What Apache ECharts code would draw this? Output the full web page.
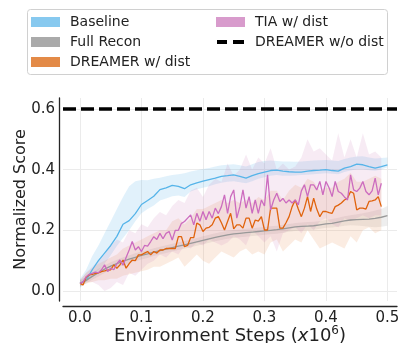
<!DOCTYPE html>
<html>
<head>
<meta charset="utf-8">
<script src="https://cdn.jsdelivr.net/npm/echarts@6/dist/echarts.min.js"></script>
<style>
  html, body { margin: 0; padding: 0; background: #fff; }
  #main { width: 402px; height: 343px; }
</style>
</head>
<body>
<div id="main"></div>
<script>
// environment steps (x1e6): coarse grid for smooth curves and bands, fine grid for noisy runs
const steps = Array.from({ length: 51 }, (_, i) => +(i * 0.01).toFixed(2));
const stepsFine = Array.from({ length: 99 }, (_, i) => +(i * 0.005).toFixed(3));
const stepsBand = steps.slice(0, 50);

const xTicks = [0, 0.1, 0.2, 0.3, 0.4, 0.5];
const yTicks = [0, 0.2, 0.4, 0.6];

const woDistScore = 0.6;

const baseline = [0.025, 0.035, 0.07, 0.1, 0.125, 0.15, 0.18, 0.22, 0.232, 0.255, 0.285,
  0.298, 0.312, 0.334, 0.34, 0.348, 0.345, 0.337, 0.35, 0.356, 0.362, 0.367, 0.372, 0.378,
  0.38, 0.383, 0.378, 0.372, 0.38, 0.387, 0.392, 0.397, 0.398, 0.395, 0.393, 0.392, 0.392,
  0.395, 0.397, 0.398, 0.4, 0.397, 0.395, 0.405, 0.41, 0.418, 0.416, 0.41, 0.405, 0.41, 0.416];
const baselineHi = [0.04, 0.07, 0.115, 0.15, 0.19, 0.23, 0.27, 0.31, 0.345, 0.362, 0.366,
  0.365, 0.37, 0.373, 0.378, 0.382, 0.385, 0.388, 0.394, 0.398, 0.402, 0.405, 0.41, 0.414,
  0.416, 0.418, 0.414, 0.41, 0.418, 0.425, 0.428, 0.43, 0.428, 0.427, 0.427, 0.426, 0.427,
  0.428, 0.43, 0.431, 0.432, 0.43, 0.428, 0.435, 0.44, 0.443, 0.444, 0.44, 0.437, 0.438, 0.44];
const baselineLo = [0.01, 0.03, 0.05, 0.068, 0.09, 0.118, 0.148, 0.175, 0.2, 0.23, 0.256,
  0.27, 0.282, 0.298, 0.305, 0.312, 0.315, 0.31, 0.328, 0.335, 0.34, 0.345, 0.352, 0.357,
  0.36, 0.362, 0.358, 0.355, 0.362, 0.37, 0.375, 0.38, 0.382, 0.38, 0.38, 0.381, 0.382,
  0.383, 0.385, 0.386, 0.388, 0.386, 0.385, 0.392, 0.397, 0.4, 0.4, 0.398, 0.396, 0.4, 0.408];

const fullRecon = [0.025, 0.035, 0.048, 0.06, 0.072, 0.082, 0.09, 0.098, 0.105, 0.111, 0.117,
  0.122, 0.128, 0.133, 0.138, 0.143, 0.148, 0.152, 0.157, 0.162, 0.167, 0.172, 0.177, 0.181,
  0.185, 0.188, 0.19, 0.192, 0.194, 0.196, 0.198, 0.2, 0.202, 0.205, 0.208, 0.211, 0.213,
  0.214, 0.215, 0.218, 0.221, 0.223, 0.227, 0.231, 0.234, 0.235, 0.236, 0.237, 0.239, 0.243, 0.248];
const fullReconHi = [0.035, 0.046, 0.06, 0.073, 0.085, 0.095, 0.103, 0.111, 0.118, 0.124, 0.13,
  0.135, 0.141, 0.146, 0.151, 0.156, 0.161, 0.165, 0.17, 0.175, 0.18, 0.185, 0.19, 0.194,
  0.198, 0.201, 0.203, 0.205, 0.207, 0.209, 0.211, 0.213, 0.215, 0.218, 0.221, 0.224, 0.226,
  0.227, 0.228, 0.231, 0.234, 0.237, 0.241, 0.246, 0.25, 0.253, 0.256, 0.26, 0.265, 0.27, 0.28];
const fullReconLo = [0.015, 0.025, 0.037, 0.048, 0.059, 0.069, 0.077, 0.085, 0.092, 0.098, 0.104,
  0.109, 0.115, 0.12, 0.125, 0.13, 0.135, 0.139, 0.144, 0.149, 0.154, 0.159, 0.164, 0.168,
  0.172, 0.175, 0.177, 0.179, 0.181, 0.183, 0.185, 0.187, 0.189, 0.192, 0.195, 0.198, 0.2,
  0.201, 0.202, 0.205, 0.208, 0.209, 0.212, 0.215, 0.217, 0.216, 0.214, 0.212, 0.21, 0.212, 0.215];

const dreamerDist = [0.025, 0.02, 0.045, 0.053, 0.055, 0.058, 0.06, 0.064, 0.066, 0.069,
  0.07, 0.086, 0.075, 0.086, 0.102, 0.075, 0.09, 0.102, 0.1, 0.119,
  0.119, 0.125, 0.13, 0.119, 0.13, 0.125, 0.135, 0.135, 0.14, 0.14,
  0.14, 0.14, 0.179, 0.179, 0.146, 0.15, 0.176, 0.176, 0.224, 0.218,
  0.196, 0.207, 0.21, 0.218, 0.24, 0.245, 0.225, 0.201, 0.229, 0.256,
  0.205, 0.218, 0.218, 0.207, 0.24, 0.24, 0.207, 0.234, 0.23, 0.245,
  0.201, 0.201, 0.273, 0.273, 0.273, 0.207, 0.207, 0.225, 0.245, 0.278,
  0.3, 0.27, 0.245, 0.273, 0.311, 0.262, 0.306, 0.27, 0.245, 0.262,
  0.262, 0.258, 0.256, 0.278, 0.283, 0.29, 0.3, 0.306, 0.328, 0.322,
  0.267, 0.273, 0.273, 0.27, 0.295, 0.297, 0.3, 0.311, 0.278];
const dreamerDistHi = [0.035, 0.06, 0.075, 0.09, 0.1, 0.11, 0.12, 0.14, 0.15, 0.16,
  0.17, 0.18, 0.19, 0.2, 0.2, 0.23, 0.24, 0.22, 0.24, 0.27,
  0.27, 0.28, 0.29, 0.3, 0.29, 0.3, 0.29, 0.3, 0.29, 0.31,
  0.3, 0.33, 0.33, 0.3, 0.33, 0.35, 0.34, 0.37, 0.36, 0.33,
  0.34, 0.34, 0.36, 0.37, 0.39, 0.36, 0.36, 0.37, 0.38, 0.37];
const dreamerDistLo = [0.015, 0.025, 0.03, 0.035, 0.035, 0.04, 0.04, 0.05, 0.055, 0.06,
  0.065, 0.07, 0.08, 0.08, 0.09, 0.1, 0.11, 0.08, 0.1, 0.12,
  0.1, 0.09, 0.11, 0.13, 0.12, 0.11, 0.13, 0.14, 0.12, 0.13,
  0.12, 0.16, 0.17, 0.13, 0.15, 0.17, 0.16, 0.2, 0.17, 0.14,
  0.15, 0.16, 0.15, 0.14, 0.18, 0.16, 0.2, 0.21, 0.19, 0.2];

const tiaDist = [0.025, 0.03, 0.047, 0.055, 0.058, 0.062, 0.06, 0.07, 0.086, 0.064,
  0.075, 0.07, 0.09, 0.102, 0.085, 0.11, 0.135, 0.163, 0.135, 0.146,
  0.13, 0.15, 0.148, 0.163, 0.179, 0.17, 0.19, 0.172, 0.19, 0.196,
  0.168, 0.2, 0.2, 0.223, 0.229, 0.24, 0.251, 0.218, 0.256, 0.23,
  0.262, 0.235, 0.262, 0.24, 0.273, 0.255, 0.278, 0.317, 0.256, 0.311,
  0.333, 0.24, 0.278, 0.333, 0.273, 0.311, 0.256, 0.3, 0.256, 0.3,
  0.28, 0.383, 0.267, 0.3, 0.322, 0.295, 0.305, 0.29, 0.3, 0.29,
  0.3, 0.284, 0.33, 0.35, 0.311, 0.35, 0.35, 0.333, 0.361, 0.317,
  0.361, 0.34, 0.311, 0.361, 0.328, 0.322, 0.31, 0.3, 0.383, 0.333,
  0.328, 0.339, 0.361, 0.328, 0.317, 0.33, 0.372, 0.317, 0.355];
const tiaDistHi = [0.035, 0.06, 0.08, 0.1, 0.12, 0.15, 0.17, 0.16, 0.2, 0.19,
  0.22, 0.21, 0.24, 0.26, 0.25, 0.28, 0.3, 0.29, 0.33, 0.34,
  0.31, 0.35, 0.37, 0.36, 0.42, 0.38, 0.4, 0.45, 0.4, 0.44,
  0.42, 0.47, 0.4, 0.42, 0.4, 0.41, 0.44, 0.5, 0.46, 0.47,
  0.45, 0.43, 0.52, 0.44, 0.5, 0.44, 0.52, 0.45, 0.46, 0.44];
const tiaDistLo = [0.015, 0.03, 0.03, 0.02, 0.0, 0.01, 0.03, 0.02, 0.06, 0.05,
  0.07, 0.09, 0.1, 0.12, 0.11, 0.13, 0.12, 0.15, 0.14, 0.16,
  0.15, 0.17, 0.16, 0.15, 0.16, 0.18, 0.17, 0.15, 0.2, 0.18,
  0.16, 0.18, 0.13, 0.19, 0.2, 0.21, 0.19, 0.22, 0.2, 0.23,
  0.24, 0.22, 0.21, 0.24, 0.23, 0.24, 0.25, 0.24, 0.25, 0.25];

const FONT = 'DejaVu Sans';
const INK = '#222';

function pairs(xs, ys) {
  return ys.map((y, i) => [xs[i], y]);
}

// shaded spread, drawn as one polygon through the axes' coord mapping
function band(xs, lo, hi, fill) {
  return {
    type: 'custom',
    silent: true,
    z: 1,
    data: [0],
    renderItem: function (params, api) {
      const pts = [];
      for (let i = 0; i < xs.length; i++) pts.push(api.coord([xs[i], hi[i]]));
      for (let i = xs.length - 1; i >= 0; i--) pts.push(api.coord([xs[i], lo[i]]));
      return { type: 'polygon', shape: { points: pts }, style: { fill: fill } };
    }
  };
}

function curve(name, xs, ys, color) {
  return {
    name: name,
    type: 'line',
    z: 3,
    showSymbol: false,
    symbol: 'none',
    data: pairs(xs, ys),
    lineStyle: { color: color, width: 1.3 },
    itemStyle: { color: color }
  };
}

const legendText = { fontFamily: FONT, fontSize: 14, color: INK, padding: [0, 0, 0, 5] };

const chart = echarts.init(document.getElementById('main'));

chart.setOption({
  animation: false,
  textStyle: { fontFamily: FONT },
  graphic: [{
    type: 'rect',
    left: 27, top: 9, z: -10,
    shape: { width: 360, height: 65, r: 3 },
    style: { fill: 'rgba(255,255,255,0.8)', stroke: '#d0d0d0', lineWidth: 1 }
  }],
  legend: [{
    left: 31, top: 15, padding: 0,
    orient: 'vertical',
    itemWidth: 29, itemHeight: 10, itemGap: 6,
    textStyle: legendText,
    data: [
      { name: 'Baseline', icon: 'rect', itemStyle: { color: '#87c9ef' } },
      { name: 'Full Recon', icon: 'rect', itemStyle: { color: '#aaaaaa' } },
      { name: 'DREAMER w/ dist', icon: 'rect', itemStyle: { color: '#e38a47' } }
    ]
  }, {
    left: 216, top: 15, padding: 0,
    orient: 'vertical',
    itemWidth: 29, itemHeight: 10, itemGap: 6,
    textStyle: legendText,
    data: [
      { name: 'TIA w/ dist', icon: 'rect', itemStyle: { color: '#d89bcc' } },
      {
        name: 'DREAMER w/o dist',
        icon: 'path://M0 3H10V7H0Z M16 3H27V7H16Z M0 0H0.01V0.01H0Z M26.99 9.99H27V10H26.99Z',
        itemStyle: { color: '#000' }
      }
    ]
  }],
  grid: { left: 63, right: 5, top: 98, bottom: 42, outerBoundsMode: 'none', containLabel: false },
  xAxis: {
    type: 'value',
    min: -0.0276, max: 0.5155,
    offset: 5,
    name: 'Environment Steps ({it|x}10{sup|6})',
    nameLocation: 'middle',
    nameGap: 19,
    nameMoveOverlap: false,
    nameTextStyle: {
      fontFamily: FONT, fontSize: 18, color: INK,
      rich: {
        it: { fontFamily: FONT, fontSize: 18, fontStyle: 'italic', color: INK },
        sup: { fontFamily: FONT, fontSize: 12, color: INK, padding: [0, 0, 10, 0] }
      }
    },
    axisLine: { show: true, onZero: false, lineStyle: { color: '#262626', width: 1.3 } },
    axisTick: { show: false, customValues: xTicks },
    axisLabel: {
      customValues: xTicks, margin: 5,
      fontFamily: FONT, fontSize: 15, color: INK,
      formatter: v => v.toFixed(1)
    },
    splitLine: { show: true, lineStyle: { color: '#ebebeb', width: 1 } }
  },
  yAxis: {
    type: 'value',
    min: -0.033, max: 0.636,
    offset: 4,
    name: 'Normalized Score',
    nameLocation: 'middle',
    nameGap: 30,
    nameMoveOverlap: false,
    nameTextStyle: { fontFamily: FONT, fontSize: 16, color: INK },
    axisLine: { show: true, onZero: false, lineStyle: { color: '#262626', width: 1.3 } },
    axisTick: { show: false, customValues: yTicks },
    axisLabel: {
      customValues: yTicks, margin: 4,
      fontFamily: FONT, fontSize: 15, color: INK,
      formatter: v => v.toFixed(1)
    },
    splitLine: { show: true, lineStyle: { color: '#ebebeb', width: 1 } }
  },
  series: [
    band(steps, baselineLo, baselineHi, 'rgba(86,180,233,0.18)'),
    band(steps, fullReconLo, fullReconHi, 'rgba(150,150,150,0.16)'),
    band(stepsBand, dreamerDistLo, dreamerDistHi, 'rgba(230,130,60,0.15)'),
    band(stepsBand, tiaDistLo, tiaDistHi, 'rgba(204,121,180,0.15)'),
    curve('Baseline', steps, baseline, '#56b4e9'),
    curve('Full Recon', steps, fullRecon, '#999999'),
    curve('DREAMER w/ dist', stepsFine, dreamerDist, '#e0630d'),
    curve('TIA w/ dist', stepsFine, tiaDist, '#cc6cbf'),
    {
      name: 'DREAMER w/o dist',
      type: 'line',
      z: 4,
      data: [],
      symbol: 'none',
      lineStyle: { color: '#000', width: 3.5, type: [13, 5] },
      itemStyle: { color: '#000' },
      markLine: {
        silent: true,
        symbol: 'none',
        label: { show: false },
        lineStyle: { color: '#000', width: 3.5, type: [13, 5] },
        data: [{ yAxis: woDistScore }]
      }
    }
  ]
});
</script>
</body>
</html>
